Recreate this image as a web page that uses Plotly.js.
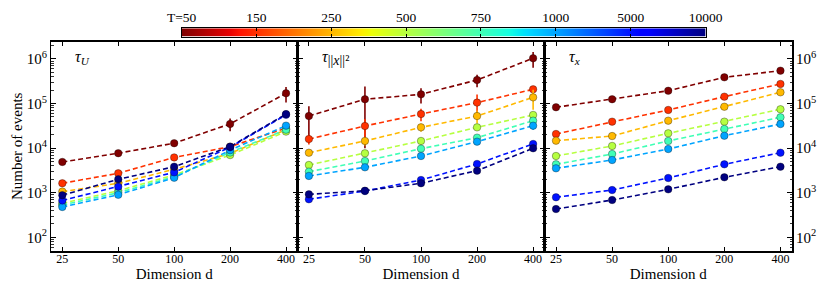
<!DOCTYPE html>
<html>
<head>
<meta charset="utf-8">
<script src="https://cdn.plot.ly/plotly-3.0.1.min.js"></script>
<style>html,body{margin:0;padding:0;background:#fff;}#chart{width:831px;height:294px;}</style>
</head>
<body>
<div id="chart"></div>
<script>
// ---------------- DATA ----------------
const dims = [25, 50, 100, 200, 400];
const tLabels = ['T=50', '150', '250', '500', '750', '1000', '5000', '10000'];
const panelLabels = [
  '<i>τ</i><sub><i>U</i></sub>',
  '<i>τ</i><sub><span style="font-size:14px">||<i>x</i>||²</span></sub>',
  '<i>τ</i><sub><i>x</i></sub>'
];

// panel 1: tau_U
const tauU_T50    = [4900, 7700, 12900, 35000, 170000];
const tauU_T150   = [1630, 2730, 6200, 10800, 28000];
const tauU_T250   = [1060, 1630, 3350, 7600, 26000];
const tauU_T500   = [580, 1110, 2500, 7000, 23500];
const tauU_T750   = [530, 1000, 2290, 8000, 26000];
const tauU_T1000  = [480, 900, 2170, 9000, 32000];
const tauU_T5000  = [670, 1370, 2870, 10500, 56000];
const tauU_T10000 = [880, 2000, 3840, 10800, 58000];
const tauU_err_T50    = [600, 900, 1200, 11000, 65000];
const tauU_err_T150   = [150, 250, 500, 1000, 3000];
const tauU_err_T250   = [60, 100, 200, 800, 3000];
const tauU_err_T500   = [40, 80, 200, 700, 2500];
const tauU_err_T750   = [40, 80, 200, 700, 2500];
const tauU_err_T1000  = [40, 80, 200, 800, 4000];
const tauU_err_T5000  = [60, 120, 250, 1000, 8000];
const tauU_err_T10000 = [80, 150, 300, 1000, 10000];

// panel 2: tau_||x||^2
const tauX2_T50    = [52600, 125000, 161000, 338000, 1040000];
const tauX2_T150   = [16000, 31400, 58300, 105000, 209000];
const tauX2_T250   = [7900, 14500, 29300, 52600, 138000];
const tauX2_T500   = [4190, 7660, 14500, 29300, 55500];
const tauX2_T750   = [2970, 5150, 9730, 17200, 41300];
const tauX2_T1000  = [2380, 3720, 6670, 14000, 31900];
const tauX2_T5000  = [713, 1090, 1930, 4420, 12400];
const tauX2_T10000 = [920, 1110, 1630, 3130, 9930];
const tauX2_err_T50    = [35000, 115000, 60000, 105000, 400000];
const tauX2_err_T150   = [4000, 13500, 18000, 55000, 25000];
const tauX2_err_T250   = [1000, 3000, 6000, 17000, 65000];
const tauX2_err_T500   = [400, 800, 1500, 4000, 8000];
const tauX2_err_T750   = [300, 500, 1000, 2000, 5000];
const tauX2_err_T1000  = [200, 400, 700, 1500, 6000];
const tauX2_err_T5000  = [60, 100, 200, 400, 1500];
const tauX2_err_T10000 = [80, 100, 150, 300, 1000];

// panel 3: tau_x
const taux_T50    = [82600, 125000, 194000, 388000, 547000];
const taux_T150   = [20800, 39300, 71800, 143000, 275000];
const taux_T250   = [14700, 18700, 41300, 85000, 179000];
const taux_T500   = [6670, 11200, 21500, 39300, 74500];
const taux_T750   = [4340, 7390, 14500, 26900, 49200];
const taux_T1000  = [3530, 5420, 9570, 19000, 34800];
const taux_T5000  = [790, 1150, 2140, 4340, 7900];
const taux_T10000 = [431, 687, 1190, 2220, 3840];
const taux_err_T50    = [6000, 20000, 15000, 40000, 30000];
const taux_err_T150   = [1500, 3000, 5000, 10000, 20000];
const taux_err_T250   = [800, 1200, 3000, 6000, 12000];
const taux_err_T500   = [400, 700, 1300, 2500, 5000];
const taux_err_T750   = [250, 450, 900, 1700, 3000];
const taux_err_T1000  = [200, 350, 600, 1200, 2200];
const taux_err_T5000  = [50, 70, 130, 260, 500];
const taux_err_T10000 = [25, 40, 70, 130, 250];

const panel1 = [tauU_T50, tauU_T150, tauU_T250, tauU_T500, tauU_T750, tauU_T1000, tauU_T5000, tauU_T10000];
const panel1Err = [tauU_err_T50, tauU_err_T150, tauU_err_T250, tauU_err_T500, tauU_err_T750, tauU_err_T1000, tauU_err_T5000, tauU_err_T10000];
const panel2 = [tauX2_T50, tauX2_T150, tauX2_T250, tauX2_T500, tauX2_T750, tauX2_T1000, tauX2_T5000, tauX2_T10000];
const panel2Err = [tauX2_err_T50, tauX2_err_T150, tauX2_err_T250, tauX2_err_T500, tauX2_err_T750, tauX2_err_T1000, tauX2_err_T5000, tauX2_err_T10000];
const panel3 = [taux_T50, taux_T150, taux_T250, taux_T500, taux_T750, taux_T1000, taux_T5000, taux_T10000];
const panel3Err = [taux_err_T50, taux_err_T150, taux_err_T250, taux_err_T500, taux_err_T750, taux_err_T1000, taux_err_T5000, taux_err_T10000];

// ---------------- STYLE ----------------
const seriesColors = ['rgb(128,0,0)', 'rgb(255,50,0)', 'rgb(255,185,0)', 'rgb(182,255,65)',
                      'rgb(65,255,182)', 'rgb(0,164,255)', 'rgb(0,18,255)', 'rgb(0,0,128)'];
// matplotlib "jet", reversed (T=50 on the left)
const jetR = [
  [0.00, 'rgb(128,0,0)'], [0.09, 'rgb(232,0,0)'], [0.11, 'rgb(255,19,0)'],
  [0.34, 'rgb(255,236,0)'], [0.35, 'rgb(247,246,0)'], [0.36, 'rgb(238,255,8)'],
  [0.625, 'rgb(20,255,226)'], [0.65, 'rgb(0,230,247)'], [0.66, 'rgb(0,219,255)'],
  [0.875, 'rgb(0,0,255)'], [0.89, 'rgb(0,0,255)'], [1.00, 'rgb(0,0,128)']
];
const FONT = 'Liberation Serif, Times New Roman, serif';

const traces = [];
const panels = [[panel1, panel1Err], [panel2, panel2Err], [panel3, panel3Err]];
panels.forEach(([vals, errs], p) => {
  const ax = p === 0 ? '' : String(p + 1);
  vals.forEach((v, i) => {
    traces.push({
      type: 'scatter', mode: 'lines+markers',
      x: dims, y: v, xaxis: 'x' + ax, yaxis: 'y' + ax,
      name: tLabels[i], showlegend: false,
      line: {color: seriesColors[i], width: 1.6, dash: '5px,3px'},
      marker: {color: seriesColors[i], size: 7.5, line: {color: 'rgba(0,0,0,0.55)', width: 0.6}},
      error_y: {type: 'data', array: errs[i], symmetric: true, color: seriesColors[i], thickness: 1.6, width: 0},
      hoverinfo: 'x+y'
    });
  });
});

// colorbar as heatmap strip
const tIndex = tLabels.map((_, i) => i);
traces.push({
  type: 'heatmap', x: tIndex, y: [0], z: [tIndex], xaxis: 'x4', yaxis: 'y4',
  colorscale: jetR, zmin: 0, zmax: tLabels.length - 1, zsmooth: 'best', showscale: false, hoverinfo: 'skip'
});

const yBase = {
  type: 'log', range: [1.693, 6.388], dtick: 1, exponentformat: 'power',
  ticks: 'inside', ticklen: 5, tickwidth: 1, tickcolor: '#000',
  minor: {ticks: 'inside', ticklen: 2.5, dtick: 'D1', tickcolor: '#000', tickwidth: 0.8, showgrid: false},
  showline: true, linewidth: 1.5, linecolor: '#000', mirror: 'allticks',
  showgrid: false, zeroline: false, domain: [0, 0.8685],
  tickfont: {family: FONT, size: 12, color: '#000'}
};
const xBase = {
  type: 'log', range: [1.337, 2.664], tickvals: dims, ticktext: dims.map(String),
  ticks: 'inside', ticklen: 4, tickwidth: 1, tickcolor: '#000',
  showline: true, linewidth: 1.5, linecolor: '#000', mirror: 'allticks',
  showgrid: false, zeroline: false, ticklabelstandoff: -4,
  tickfont: {family: FONT, size: 12, color: '#000'},
  title: {text: 'Dimension d', font: {family: FONT, size: 15, color: '#000'}, standoff: 0}
};
const doms = [[0, 0.3327], [0.3327, 0.6662], [0.6662, 1]];

const layout = {
  width: 831, height: 294,
  margin: {l: 51, r: 38.5, t: 10, b: 43, pad: 0},
  paper_bgcolor: '#fff', plot_bgcolor: '#fff',
  showlegend: false,
  font: {family: FONT, color: '#000'},
  xaxis:  Object.assign({}, xBase, {domain: doms[0], anchor: 'y'}),
  xaxis2: Object.assign({}, xBase, {domain: doms[1], anchor: 'y2'}),
  xaxis3: Object.assign({}, xBase, {domain: doms[2], anchor: 'y3'}),
  yaxis:  Object.assign({}, yBase, {anchor: 'x', title: {text: 'Number of events', font: {family: FONT, size: 15, color: '#000'}, standoff: 0}}),
  yaxis2: Object.assign({}, yBase, {anchor: 'x2', showticklabels: false}),
  yaxis3: Object.assign({}, yBase, {anchor: 'x3', side: 'right'}),
  xaxis4: {
    domain: [0.1763, 0.8833], anchor: 'y4', range: [0, tLabels.length - 1], side: 'top',
    tickvals: tIndex, ticktext: tLabels, ticks: 'inside', ticklen: 3, tickcolor: '#000', tickwidth: 1,
    showline: true, linewidth: 1, linecolor: '#000', mirror: 'allticks',
    showgrid: false, zeroline: false, tickfont: {family: FONT, size: 13.5, color: '#000'}
  },
  yaxis4: {
    domain: [0.8892, 0.9241], anchor: 'x4', range: [-0.5, 0.5], showticklabels: false, ticks: '',
    showline: true, linewidth: 1, linecolor: '#000', mirror: true, showgrid: false, zeroline: false
  },
  annotations: panelLabels.map((t, p) => ({
    text: t, showarrow: false,
    xref: (p === 0 ? 'x' : 'x' + (p + 1)) + ' domain', yref: (p === 0 ? 'y' : 'y' + (p + 1)) + ' domain',
    x: 0, y: 1, xanchor: 'left', yanchor: 'middle', xshift: 22, yshift: -16,
    font: {family: FONT, size: 16, color: '#000'}
  }))
};

Plotly.newPlot('chart', traces, layout, {staticPlot: true, displayModeBar: false});
</script>
</body>
</html>
